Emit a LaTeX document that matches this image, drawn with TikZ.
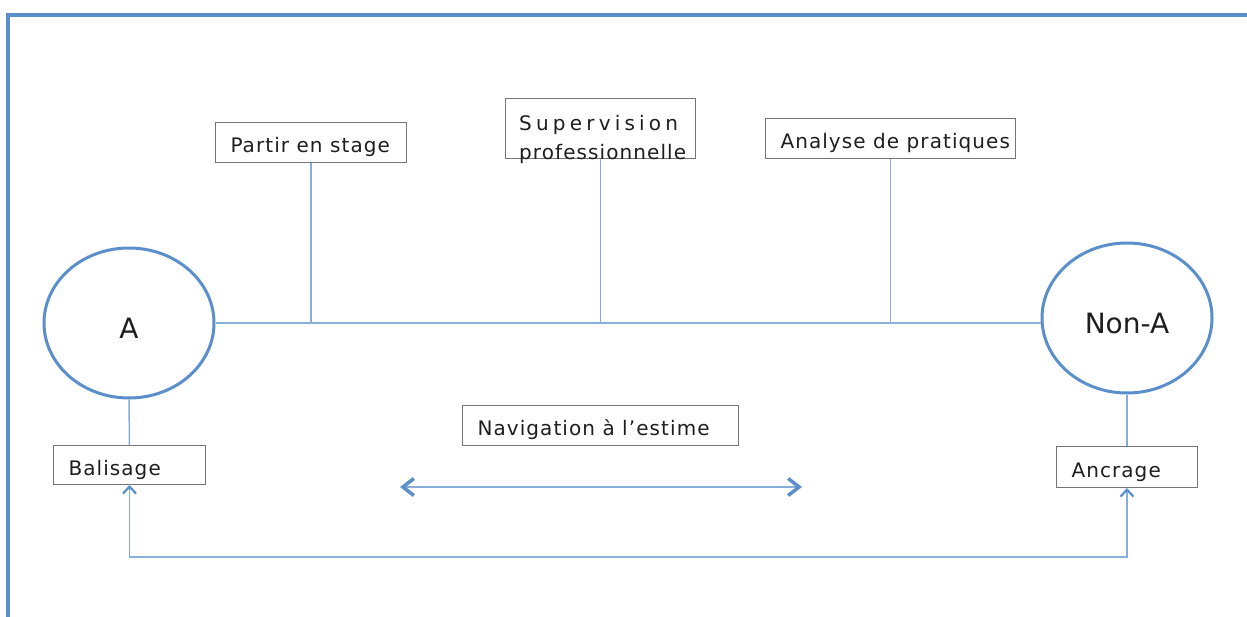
\documentclass[tikz,border=0pt]{standalone}
\usepackage{fontspec}
\setmainfont{DejaVu Sans}[LetterSpace=5.4]
\usetikzlibrary{arrows.meta,shapes.geometric}
\definecolor{frameblue}{HTML}{5B8FCB}
\definecolor{linkblue}{HTML}{86ADDC}
\definecolor{boxgray}{HTML}{767676}
\definecolor{inkgray}{HTML}{1E1E1E}
\newcommand{\BoxText}[2]{\makebox[#1pt][l]{#2}}
\tikzset{
  labelbox/.style={draw=boxgray,line width=1pt,anchor=north west,
    inner xsep=15pt,inner ysep=0pt,text=inkgray,
    text height=21pt,text depth=1pt,
    font=\fontsize{20}{24}\selectfont},
  pole/.style={ellipse,draw=frameblue,line width=3pt,
    minimum width=170pt,minimum height=150pt,text=inkgray,
    text height=31pt,text depth=0pt,
    font=\fontsize{28}{34}\selectfont\addfontfeatures{LetterSpace=0}},
  link/.style={draw=linkblue,line width=1.5pt},
  frame/.style={draw=frameblue,line width=3.5pt},
  smallbarb/.tip={Straight Barb[length=7pt,width=13pt,line width=2.2pt,color=frameblue]},
  bigbarb/.tip={Straight Barb[length=11pt,width=17pt,line width=3.5pt,color=frameblue]}
}

\begin{document}
\begin{tikzpicture}[x=1pt,y=-1pt]
  \useasboundingbox (0,0) rectangle (1247,617);
  \draw[frame] (8,630) -- (8,15) -- (1260,15);

  % the two poles
  \node[pole] (A) at (129,323) {A};
  \node[pole] (nonA) at (1127,318) {Non-A};

  % boxes
  \node[labelbox,minimum height=40pt] (stage) at (215,122) {\BoxText{161}{Partir en stage}};
  \node[labelbox,minimum height=60pt] (superv) at (505,98) {\BoxText{160}{}};
  \node[anchor=north west,inner sep=0pt,align=left,text=inkgray,
    font=\fontsize{20}{29}\selectfont] (supervText) at (519,115)
    {{\addfontfeatures{LetterSpace=21}Supervision}\\professionnelle};
  \node[labelbox,minimum height=40pt] (analyse) at (765,118) {\BoxText{220}{Analyse de pratiques}};
  \node[labelbox,minimum height=40pt] (navig) at (462,405) {\BoxText{246}{Navigation à l’estime}};
  \node[labelbox,minimum height=39pt] (balise) at (53,445) {\BoxText{122}{Balisage}};
  \node[labelbox,minimum height=41pt] (ancrage) at (1056,446) {\BoxText{111}{Ancrage}};

  % connectors
  \draw[link] (A.east) -- (A.east -| nonA.west);
  \foreach \b in {stage,superv,analyse}
    \draw[link] (\b.south) -- (\b.south |- A.east);
  \draw[link] (A.south) -- (balise.north);
  \draw[link] (nonA.south) -- (ancrage.north);

  \coordinate (loop) at (0,557);
  \draw[link,smallbarb-smallbarb] (balise.south) -- (balise.south |- loop)
    -- (ancrage.south |- loop) -- (ancrage.south);

  \coordinate (navL) at (400,487);
  \coordinate (navR) at (802,487);
  \draw[link,line width=2pt,bigbarb-bigbarb] (navL) -- (navR);
\end{tikzpicture}
\end{document}
